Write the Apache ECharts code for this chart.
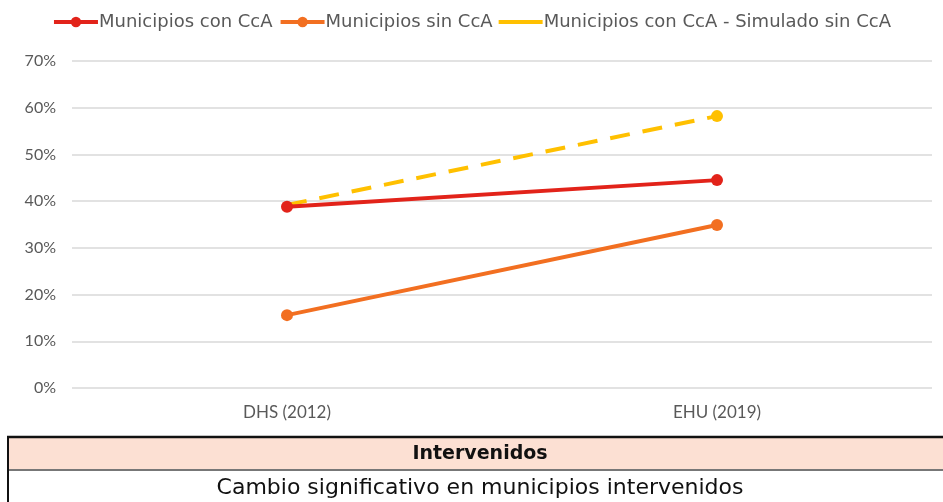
<!DOCTYPE html>
<html>
<head>
<meta charset="utf-8">
<script src="https://cdn.jsdelivr.net/npm/echarts@6/dist/echarts.min.js"></script>
<style>
  html, body { margin: 0; padding: 0; background: #fff; }
  #chart { width: 943px; height: 502px; }
</style>
</head>
<body>
<div id="chart"></div>
<script>
// data
const categories = ['DHS (2012)', 'EHU (2019)'];
const conCcA = [38.8, 44.5];
const sinCcA = [15.6, 34.9];
const simulado = [39.2, 58.2];
const tableHeader = 'Intervenidos';
const tableRow = 'Cambio significativo en municipios intervenidos';

const font = 'Lato, "Open Sans", sans-serif';
const wide = '"DejaVu Sans", sans-serif';
const txt = '#595959';

const chart = echarts.init(document.getElementById('chart'));

chart.setOption({
  animation: false,
  textStyle: { fontFamily: font },
  legend: {
    top: 8,
    left: 'center',
    itemWidth: 44,
    itemHeight: 13,
    itemGap: 6,
    lineStyle: { width: 4 },
    textStyle: { fontSize: 18, color: txt, fontFamily: wide, padding: [0, 0, 0, -4] },
    data: [
      'Municipios con CcA',
      'Municipios sin CcA',
      { name: 'Municipios con CcA - Simulado sin CcA', icon: 'path://M0,0 L44,0 L44,4 L0,4 Z' }
    ]
  },
  grid: { left: 72, right: 11, top: 61, bottom: 114 },
  xAxis: {
    type: 'category',
    data: categories,
    axisLine: { show: false },
    axisTick: { show: false },
    axisLabel: { fontSize: 17, color: txt, margin: 16 }
  },
  yAxis: {
    type: 'value',
    min: 0,
    max: 70,
    interval: 10,
    axisLabel: { formatter: '{value}%', fontSize: 16, color: txt, margin: 16 },
    splitLine: { lineStyle: { color: '#d9d9d9', width: 1.5 } }
  },
  series: [
    {
      name: 'Municipios con CcA',
      type: 'line',
      data: conCcA,
      z: 3,
      symbol: 'circle',
      symbolSize: 12,
      color: '#e2231a',
      lineStyle: { width: 4 }
    },
    {
      name: 'Municipios sin CcA',
      type: 'line',
      data: sinCcA,
      z: 3,
      symbol: 'circle',
      symbolSize: 12,
      color: '#f26f21',
      lineStyle: { width: 4 }
    },
    {
      name: 'Municipios con CcA - Simulado sin CcA',
      type: 'line',
      data: simulado.map((v, i) => i === 0 ? { value: v, symbol: 'none' } : v),
      z: 1,
      symbol: 'circle',
      symbolSize: 12,
      color: '#ffc000',
      lineStyle: { width: 4, type: [20, 13] }
    }
  ],
  graphic: [
    // table under the chart
    { type: 'rect', shape: { x: 7, y: 437, width: 940, height: 33 }, style: { fill: '#fce0d3' } },
    { type: 'line', shape: { x1: 7, y1: 437, x2: 943, y2: 437 }, style: { stroke: '#111', lineWidth: 2.5 } },
    { type: 'line', shape: { x1: 7, y1: 470, x2: 943, y2: 470 }, style: { stroke: '#777', lineWidth: 2 } },
    { type: 'line', shape: { x1: 8, y1: 436, x2: 8, y2: 502 }, style: { stroke: '#111', lineWidth: 2 } },
    {
      type: 'text', x: 480, y: 454,
      style: { text: tableHeader, font: 'bold 19px ' + wide, fill: '#111', textAlign: 'center', textVerticalAlign: 'middle' }
    },
    {
      type: 'text', x: 480, y: 488,
      style: { text: tableRow, font: '22px ' + wide, fill: '#111', textAlign: 'center', textVerticalAlign: 'middle' }
    }
  ]
});
</script>
</body>
</html>
